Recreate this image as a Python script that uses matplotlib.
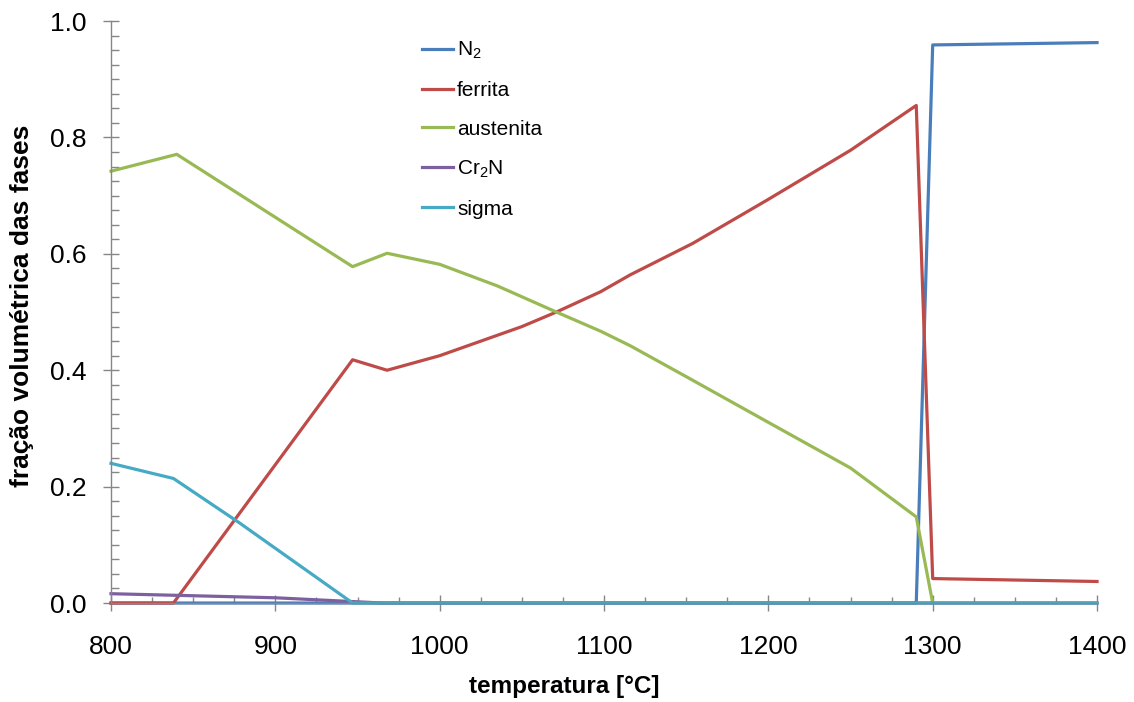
import matplotlib
matplotlib.use("Agg")
import matplotlib.pyplot as plt
from matplotlib.ticker import MultipleLocator

plt.rcParams["font.family"] = ["Liberation Sans", "DejaVu Sans"]
plt.rcParams["mathtext.default"] = "regular"

# temperatura [°C] and phase fractions
t_n2 = [800, 1290, 1300, 1400]
n2 = [0.0, 0.0, 0.959, 0.963]

t_fer = [800, 838, 947, 968, 1000, 1050, 1071, 1098, 1116, 1154, 1199, 1250, 1290, 1300, 1400]
ferrita = [0.0, 0.0, 0.418, 0.400, 0.425, 0.475, 0.500, 0.535, 0.564, 0.618, 0.692, 0.778, 0.855, 0.042, 0.037]

t_aus = [800, 840, 947, 968, 1000, 1035, 1071, 1098, 1116, 1150, 1199, 1250, 1290, 1300]
austenita = [0.742, 0.771, 0.578, 0.601, 0.582, 0.545, 0.500, 0.467, 0.442, 0.389, 0.312, 0.232, 0.148, 0.0]

t_cr = [800, 900, 965, 1400]
cr2n = [0.016, 0.009, 0.0, 0.0]

t_sig = [800, 838, 878, 947, 1400]
sigma = [0.240, 0.214, 0.138, 0.0, 0.0]

series = [
    ("N$_2$", t_n2, n2, "#4a7ebb"),
    ("ferrita", t_fer, ferrita, "#be4b48"),
    ("austenita", t_aus, austenita, "#98b954"),
    ("Cr$_2$N", t_cr, cr2n, "#7d60a0"),
    ("sigma", t_sig, sigma, "#46aac5"),
]

fig = plt.figure(figsize=(11.34, 7.02), dpi=100)
ax = fig.add_axes([0.0979, 0.141, 0.8695, 0.829])

for lab, x, y, c in series:
    ax.plot(x, y, color=c, lw=2.3, label=lab, clip_on=False)

ax.set_xlim(800, 1400)
ax.set_ylim(0, 1.0)
ax.xaxis.set_major_locator(MultipleLocator(100))
ax.xaxis.set_minor_locator(MultipleLocator(25))
ax.yaxis.set_major_locator(MultipleLocator(0.2))
ax.yaxis.set_minor_locator(MultipleLocator(0.025))
ax.yaxis.set_major_formatter(matplotlib.ticker.FormatStrFormatter("%.1f"))

grey = "#868686"
for s in ["top", "right"]:
    ax.spines[s].set_visible(False)
for s in ["left", "bottom"]:
    ax.spines[s].set_color(grey)
    ax.spines[s].set_linewidth(1.0)
ax.tick_params(which="major", direction="inout", length=12, width=1.0, color=grey,
               labelsize=19, labelcolor="black")
ax.tick_params(axis="y", which="major", pad=11.5)
ax.tick_params(axis="x", which="major", pad=17)
ax.tick_params(axis="y", which="minor", direction="in", length=6, width=1.0, color=grey)
ax.tick_params(axis="x", which="minor", direction="in", length=4.5, width=1.0, color=grey)

ax.set_xlabel("temperatura [°C]", fontsize=17.5, fontweight="bold")
ax.set_ylabel("fração volumétrica das fases", fontsize=19, fontweight="bold")
ax.xaxis.set_label_coords(0.46, -0.124)
ax.yaxis.set_label_coords(-0.078, 0.51)

ax.legend(loc="upper left", bbox_to_anchor=(0.296, 1.0), frameon=False, fontsize=15,
          handlelength=1.5, handletextpad=0.2, labelspacing=0.95)

fig.savefig("out.png", dpi=100, facecolor="white")
